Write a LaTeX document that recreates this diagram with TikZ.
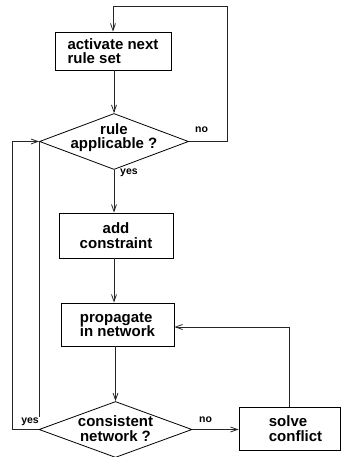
\documentclass[tikz,border=0pt]{standalone}
\usepackage{fontspec}
\setmainfont{Liberation Sans}
\usetikzlibrary{shapes.geometric,arrows.meta,calc}
\begin{document}
\begin{tikzpicture}[x=1pt,y=-1pt,
  every node/.style={font=\bfseries\fontsize{15}{14.5}\selectfont},
  box/.style={draw,line width=0.8pt,rectangle,inner sep=0pt,align=left},
  dia/.style={draw,line width=0.8pt,diamond,inner sep=0pt},
  lbl/.style={font=\bfseries\fontsize{10.5}{11}\selectfont,inner sep=1pt},
  conn/.style={line width=0.8pt,black!85},
  arr/.style={conn,-{Straight Barb[length=7pt,width=5pt]}}]
\useasboundingbox (0,0) rectangle (341,457);
\node[box,minimum width=116pt,minimum height=38pt] (a1) at (113,51) {activate next\\rule set};
\node[dia,minimum width=149pt,minimum height=56pt,label={[yshift=4pt,align=center]center:rule\\applicable ?}] (d1) at (114,141.5) {};
\node[box,align=center,minimum width=114pt,minimum height=45pt] (a2) at (116,235.5) {add\\constraint};
\node[box,minimum width=113pt,minimum height=43pt] (a3) at (117.5,324.5) {propagate\\in network};
\node[dia,minimum width=153pt,minimum height=56pt,label={[yshift=1pt,align=center]center:consistent\\network ?}] (d2) at (115.5,429.5) {};
\node[box,minimum width=101pt,minimum height=43pt,label={[xshift=6pt,align=left]center:solve\\conflict}] (a4) at (289.5,428.5) {};
\coordinate (c1) at (227,6);
\coordinate (c2) at (12,429.5);
\coordinate (c3) at (39,417);
% connectors
\draw[arr] (d1.north |- a1.south) -- (d1.north);
\draw[arr] (d1.east) -| (c1) -| (a1.north);
\draw[arr] (d1.south) -- (d1.south |- a2.north);
\draw[arr] (d1.south |- a2.south) -- (d1.south |- a3.north);
\draw[arr] (d2.north |- a3.south) -- (d2.north);
\draw[arr] (d2.east) -- (d2.east -| a4.west);
\draw[arr] (a4.north) |- ($(a3.east)+(0,2.5)$);
\draw[arr] (d2.west) -- (c2) |- (d1.west);
\draw[conn] (d1.west) -- (d1.west |- c3);
% labels
\node[lbl,anchor=west] (yes1) at (119,173) {yes};
\node[lbl,anchor=west] (no1) at (194,130) {no};
\node[lbl,anchor=west] (no2) at (198,420) {no};
\node[lbl,anchor=east] (yes2) at (40,422) {yes};
\end{tikzpicture}
\end{document}
